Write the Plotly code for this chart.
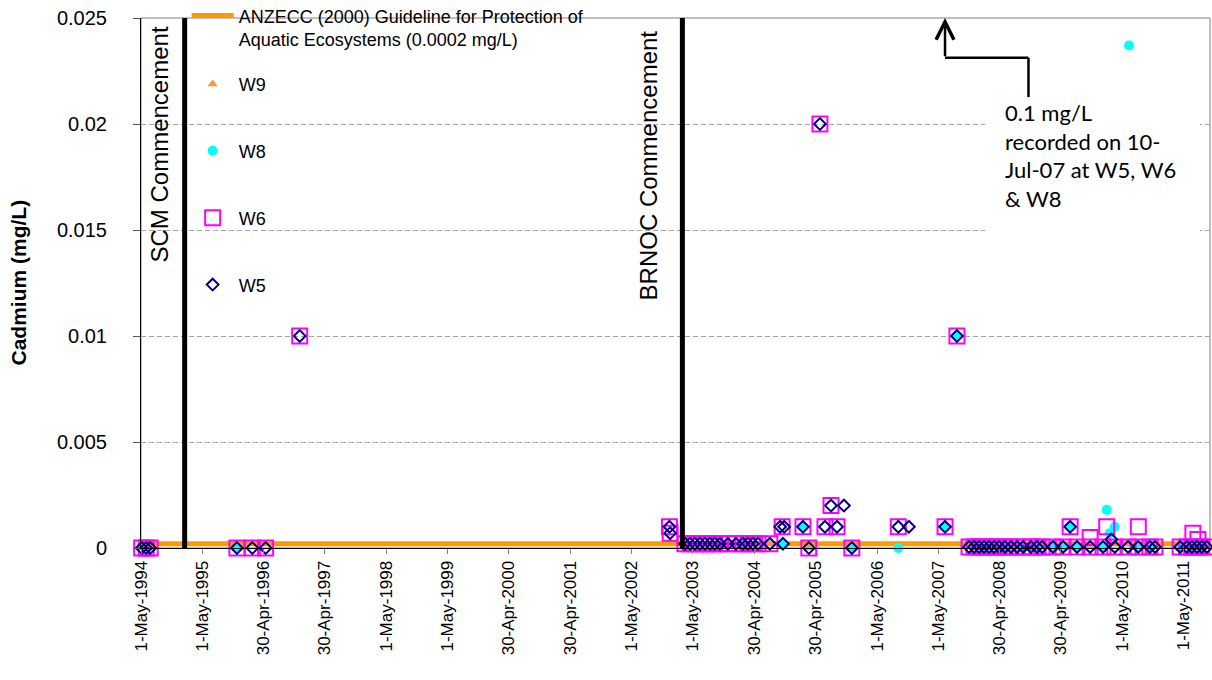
import plotly.graph_objects as go

# ---------------- data ----------------
GUIDELINE_DATES = ["1994-05-01", "2011-10-05"]
GUIDELINE_VALUES = [0.0002, 0.0002]

W5_DATES = ["1994-05-05", "1994-06-01", "1994-06-25", "1995-11-23", "1996-02-23", "1996-05-12",
            "1996-12-01", "2002-12-12", "2002-12-16",
            "2003-03-14", "2003-04-13", "2003-05-12", "2003-06-11", "2003-07-11", "2003-08-10",
            "2003-09-08", "2003-10-08", "2003-11-25", "2004-01-12", "2004-02-22", "2004-03-23",
            "2004-04-22", "2004-05-22", "2004-08-01", "2004-10-01", "2004-10-18", "2004-10-25",
            "2005-02-14", "2005-03-21", "2005-05-26", "2005-06-25", "2005-07-31", "2005-09-05",
            "2005-10-16", "2005-12-02", "2006-09-05", "2006-11-07", "2007-06-10", "2007-08-20",
            "2007-10-31", "2007-11-30", "2007-12-30", "2008-01-28", "2008-02-27", "2008-03-28",
            "2008-04-27", "2008-06-01", "2008-07-07", "2008-08-12", "2008-09-17", "2008-11-03",
            "2008-12-09", "2009-01-08", "2009-03-14", "2009-05-13", "2009-06-24", "2009-08-04",
            "2009-10-21", "2010-01-06", "2010-02-25", "2010-03-17", "2010-06-04", "2010-08-03",
            "2010-10-12", "2010-11-11", "2011-04-10", "2011-05-20", "2011-06-19", "2011-07-19",
            "2011-08-17", "2011-09-16"]
W5_VALUES = [0, 0, 0, 0, 0, 0,
             0.01, 0.001, 0.0007,
             0.0002, 0.0002, 0.0002, 0.0002, 0.0002, 0.0002,
             0.0002, 0.0002, 0.0002, 0.0002, 0.0002, 0.0002,
             0.0002, 0.0002, 0.0002, 0.001, 0.0002, 0.001,
             0.001, 0, 0.02, 0.001, 0.002, 0.001,
             0.002, 0, 0.001, 0.001, 0.001, 0.01,
             0.00005, 0.00005, 0.00005, 0.00005, 0.00005, 0.00005,
             0.00005, 0.00005, 0.00005, 0.00005, 0.00005, 0.00005,
             0.00005, 0.00005, 0.00005, 0.00005, 0.001, 0.00005,
             0.00005, 0.00005, 0.0004, 0.00005, 0.00005, 0.00005,
             0.00005, 0.00005, 0.00005, 0.00005, 0.00005, 0.00005,
             0.00005, 0.00005]

W6_DATES = ["1994-05-05", "1994-06-01", "1994-06-25", "1995-11-23", "1996-02-23", "1996-05-12",
            "1996-12-01", "2002-12-12", "2002-12-16",
            "2003-03-14", "2003-04-13", "2003-05-12", "2003-06-11", "2003-07-11", "2003-08-10",
            "2003-09-08", "2003-10-08", "2003-11-25", "2004-01-12", "2004-02-22", "2004-03-23",
            "2004-04-22", "2004-05-22", "2004-08-01", "2004-10-13",
            "2005-02-14", "2005-03-21", "2005-05-26", "2005-06-25", "2005-07-31", "2005-09-05",
            "2005-12-02", "2006-09-05", "2007-06-10", "2007-08-20",
            "2007-10-31", "2007-11-30", "2007-12-30", "2008-01-28", "2008-02-27", "2008-03-28",
            "2008-04-27", "2008-06-01", "2008-07-07", "2008-08-12", "2008-09-17", "2008-11-03",
            "2008-12-09", "2009-01-08", "2009-03-14", "2009-05-13", "2009-06-24", "2009-08-04",
            "2009-10-21", "2009-10-21", "2010-01-06", "2010-01-28", "2010-03-17", "2010-06-04",
            "2010-08-03", "2010-08-04", "2010-10-12", "2010-11-11", "2011-04-10", "2011-05-20",
            "2011-06-19", "2011-06-25", "2011-07-19", "2011-07-25", "2011-08-17", "2011-09-16"]
W6_VALUES = [0, 0, 0, 0, 0, 0,
             0.01, 0.001, 0.0007,
             0.0002, 0.0002, 0.0002, 0.0002, 0.0002, 0.0002,
             0.0002, 0.0002, 0.0002, 0.0002, 0.0002, 0.0002,
             0.0002, 0.0002, 0.0002, 0.001,
             0.001, 0, 0.02, 0.001, 0.002, 0.001,
             0, 0.001, 0.001, 0.01,
             0.00005, 0.00005, 0.00005, 0.00005, 0.00005, 0.00005,
             0.00005, 0.00005, 0.00005, 0.00005, 0.00005, 0.00005,
             0.00005, 0.00005, 0.00005, 0.00005, 0.001, 0.00005,
             0.00005, 0.0005, 0.00005, 0.001, 0.00005, 0.00005,
             0.00005, 0.001, 0.00005, 0.00005, 0.00005, 0.00005,
             0.00005, 0.0007, 0.00005, 0.0004, 0.00005, 0.00005]

W8_DATES = ["1995-11-23", "2004-10-18", "2005-02-14", "2005-12-02", "2006-09-05", "2007-06-10",
            "2007-08-20", "2008-01-28", "2008-06-01", "2008-09-17", "2008-12-09", "2009-03-14",
            "2009-05-13", "2009-06-24", "2009-08-04", "2010-01-06", "2010-01-28", "2010-02-15",
            "2010-03-17", "2010-06-10", "2010-08-03", "2010-10-12", "2011-04-10", "2011-06-19",
            "2011-08-17"]
W8_VALUES = [0, 0.0002, 0.001, 0, 0, 0.001,
             0.01, 0.00005, 0.00005, 0.00005, 0.00005, 0.00005,
             0.00005, 0.001, 0.00005, 0.00005, 0.0018, 0.0007,
             0.001, 0.0237, 0.00005, 0.00005, 0.00005, 0.00005,
             0.00005]

W9_DATES = ["2004-08-01", "2005-03-21", "2009-10-21", "2010-05-26"]
W9_VALUES = [0.0002, 0, 0.00005, 0.0002]

TICK_DATES = ["1994-05-01", "1995-05-01", "1996-04-30", "1997-04-30", "1998-05-01", "1999-05-01",
              "2000-04-30", "2001-04-30", "2002-05-01", "2003-05-01", "2004-04-30", "2005-04-30",
              "2006-05-01", "2007-05-01", "2008-04-30", "2009-04-30", "2010-05-01", "2011-05-01"]
TICK_LABELS = ["1-May-1994", "1-May-1995", "30-Apr-1996", "30-Apr-1997", "1-May-1998", "1-May-1999",
               "30-Apr-2000", "30-Apr-2001", "1-May-2002", "1-May-2003", "30-Apr-2004", "30-Apr-2005",
               "1-May-2006", "1-May-2007", "30-Apr-2008", "30-Apr-2009", "1-May-2010", "1-May-2011"]

Y_TICKS = [0, 0.005, 0.01, 0.015, 0.02, 0.025]
Y_LABELS = ["0", "0.005", "0.01", "0.015", "0.02", "0.025"]

X_RANGE = ["1994-05-01", "2011-10-05"]
Y_RANGE = [0, 0.025]

SCM_DATE = "1995-01-16"
BRNOC_DATE = "2003-02-27"

# annotation (callout) geometry
CALLOUT_TAIL_DATE = "2008-10-19"
CALLOUT_HEAD_DATE = "2007-06-10"
CALLOUT_Y_LOW = 0.02127
CALLOUT_Y_MID = 0.02312
CALLOUT_TEXT = "0.1 mg/L<br>recorded on 10-<br>Jul-07 at W5, W6<br>& W8"

FONT = "Liberation Sans, Arial, sans-serif"

fig = go.Figure()

fig.add_trace(go.Scatter(
    x=GUIDELINE_DATES, y=GUIDELINE_VALUES, mode="lines", cliponaxis=False,
    name="ANZECC (2000) Guideline for Protection of<br>Aquatic Ecosystems (0.0002 mg/L)",
    line=dict(color="#FF9900", width=5), legend="legend", legendgroup="g0"))

fig.add_trace(go.Scatter(
    x=W9_DATES, y=W9_VALUES, mode="markers", name="W9", legend="legend2", legendgroup="g1",
    cliponaxis=False,
    marker=dict(symbol="triangle-up", size=9, color="#F79646", line=dict(width=0))))
fig.add_trace(go.Scatter(
    x=W8_DATES, y=W8_VALUES, mode="markers", name="W8", legend="legend2", legendgroup="g2",
    cliponaxis=False,
    marker=dict(symbol="circle", size=10, color="#00FFFF", line=dict(width=0))))
fig.add_trace(go.Scatter(
    x=W6_DATES, y=W6_VALUES, mode="markers", name="W6", legend="legend2", legendgroup="g3",
    cliponaxis=False,
    marker=dict(symbol="square-open", size=15, color="#FF00FF", line=dict(width=2))))
fig.add_trace(go.Scatter(
    x=W5_DATES, y=W5_VALUES, mode="markers", name="W5", legend="legend2", legendgroup="g4",
    cliponaxis=False,
    marker=dict(symbol="diamond-open", size=9, color="#000080", line=dict(width=2))))

shapes = []
# plot area border
shapes.append(dict(type="rect", xref="paper", yref="paper", x0=0, x1=1, y0=0, y1=1,
                   line=dict(color="#808080", width=1), layer="between"))
# white background of the callout text box
shapes.append(dict(type="rect", xref="x", yref="y", x0="2008-02-03", x1="2011-08-06",
                   y0=0.01474, y1=0.02125, fillcolor="white", line=dict(width=0), layer="between"))
# commencement lines
for d in (SCM_DATE, BRNOC_DATE):
    shapes.append(dict(type="line", xref="x", yref="y", x0=d, x1=d, y0=Y_RANGE[0], y1=Y_RANGE[1],
                       line=dict(color="black", width=5)))
# callout connector
shapes.append(dict(type="line", xref="x", yref="y", x0=CALLOUT_TAIL_DATE, x1=CALLOUT_TAIL_DATE,
                   y0=CALLOUT_Y_LOW, y1=CALLOUT_Y_MID, line=dict(color="black", width=2.5)))
shapes.append(dict(type="line", xref="x", yref="y", x0=CALLOUT_TAIL_DATE, x1=CALLOUT_HEAD_DATE,
                   y0=CALLOUT_Y_MID, y1=CALLOUT_Y_MID, line=dict(color="black", width=2.5)))

annotations = [
    dict(x=CALLOUT_HEAD_DATE, y=Y_RANGE[1], ax=CALLOUT_HEAD_DATE, ay=CALLOUT_Y_MID,
         xref="x", yref="y", axref="x", ayref="y", text="", showarrow=True,
         arrowhead=5, arrowsize=1.4, arrowwidth=2.5, arrowcolor="black", standoff=0),
    dict(x="2008-05-20", y=0.02128, xref="x", yref="y", xanchor="left", yanchor="top",
         text=CALLOUT_TEXT, showarrow=False, align="left",
         font=dict(family="Lato, sans-serif", size=22, color="black")),
    dict(x="1994-08-17", y=0.02470, xref="x", yref="y", xanchor="center", yanchor="top",
         text="SCM Commencement", textangle=-90, showarrow=False,
         font=dict(family=FONT, size=24, color="black")),
    dict(x="2002-08-11", y=0.02450, xref="x", yref="y", xanchor="center", yanchor="top",
         text="BRNOC Commencement", textangle=-90, showarrow=False,
         font=dict(family=FONT, size=24, color="black")),
    dict(x=-0.1155, y=0.5, xref="paper", yref="paper", xanchor="center", yanchor="middle",
         text="<b>Cadmium (mg/L)</b>", textangle=-90, showarrow=False,
         font=dict(family=FONT, size=21, color="black")),
]

fig.update_layout(
    width=1212, height=680, autosize=False,
    margin=dict(l=141, r=2, t=18, b=132, pad=0, autoexpand=False),
    paper_bgcolor="white", plot_bgcolor="white",
    font=dict(family=FONT, color="black"),
    showlegend=True,
    legend=dict(x=0.0427, y=1.039, xanchor="left", yanchor="top", bgcolor="rgba(0,0,0,0)",
                font=dict(family=FONT, size=18, color="black"), itemwidth=42, valign="top",
                borderwidth=0),
    legend2=dict(x=0.0427, y=0.91, xanchor="left", yanchor="top", bgcolor="rgba(0,0,0,0)",
                 font=dict(family=FONT, size=18, color="black"), itemwidth=42,
                 traceorder="grouped", tracegroupgap=40.5, borderwidth=0),
    xaxis=dict(type="date", range=X_RANGE, tickvals=TICK_DATES, ticktext=TICK_LABELS,
               tickangle=-90, showgrid=False, showline=True, linecolor="black", linewidth=1,
               ticks="outside", ticklen=5, tickcolor="#808080",
               tickfont=dict(family=FONT, size=17, color="black"), zeroline=False),
    yaxis=dict(range=Y_RANGE, tickvals=Y_TICKS, ticktext=Y_LABELS,
               showgrid=True, gridcolor="#A6A6A6", griddash="5px,3px", gridwidth=1,
               showline=True, linecolor="black", linewidth=1, zeroline=False,
               ticks="outside", ticklen=7, tickcolor="#595959", ticklabelstandoff=22,
               tickfont=dict(family=FONT, size=20, color="black")),
    shapes=shapes, annotations=annotations,
)

fig.write_html("out.html")
